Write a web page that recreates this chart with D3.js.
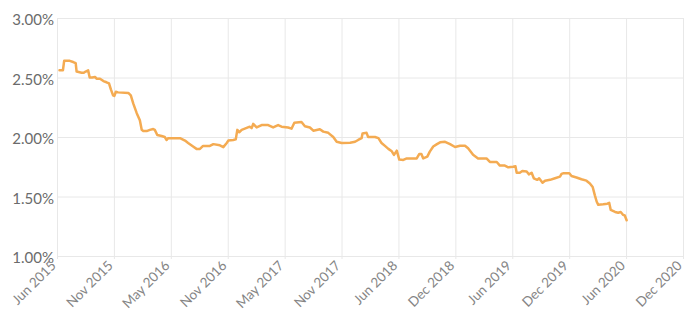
<!DOCTYPE html>
<html>
<head>
<meta charset="utf-8">
<script src="https://cdn.jsdelivr.net/npm/d3@7"></script>
<style>
  html, body { margin: 0; padding: 0; background: #fff; }
  svg { display: block; }
</style>
</head>
<body>
<svg id="chart" width="690" height="323"></svg>
<script>
// ---- data ----
const dates = [
  "2015-06-09","2015-06-20","2015-06-24","2015-07-12","2015-07-23","2015-07-31","2015-08-03","2015-08-19","2015-08-26","2015-09-01",
  "2015-09-09","2015-09-14","2015-09-22","2015-10-01","2015-10-06","2015-10-17","2015-10-28","2015-11-07","2015-11-15","2015-11-21",
  "2015-11-28","2015-12-02","2015-12-07","2015-12-14","2016-01-16","2016-01-24","2016-02-01","2016-02-12","2016-02-22","2016-02-28",
  "2016-03-04","2016-03-15","2016-03-25","2016-04-05","2016-04-10","2016-04-18","2016-05-02","2016-05-12","2016-05-18","2016-05-23",
  "2016-06-30","2016-07-16","2016-07-26","2016-08-11","2016-08-22","2016-09-02","2016-09-12","2016-10-04","2016-10-15","2016-11-05",
  "2016-11-16","2016-11-27","2016-12-02","2016-12-18","2016-12-26","2016-12-31","2017-01-06","2017-01-14","2017-01-24","2017-02-09",
  "2017-02-15","2017-02-20","2017-03-03","2017-03-19","2017-04-09","2017-04-25","2017-05-11","2017-05-22","2017-06-12","2017-06-23",
  "2017-07-02","2017-07-25","2017-08-05","2017-08-21","2017-09-01","2017-09-22","2017-10-03","2017-10-19","2017-11-04","2017-11-15",
  "2017-12-01","2017-12-28","2018-01-13","2018-01-23","2018-02-03","2018-02-06","2018-02-19","2018-02-24","2018-03-18","2018-03-29",
  "2018-04-08","2018-04-19","2018-04-30","2018-05-11","2018-05-18","2018-05-27","2018-06-04","2018-06-17","2018-06-28","2018-07-30",
  "2018-08-07","2018-08-14","2018-08-20","2018-09-02","2018-09-10","2018-09-21","2018-10-03","2018-10-13","2018-10-29","2018-11-14",
  "2018-11-30","2018-12-16","2019-01-01","2019-01-11","2019-01-27","2019-02-12","2019-03-11","2019-03-22","2019-04-13","2019-04-23",
  "2019-05-09","2019-05-20","2019-06-05","2019-06-12","2019-06-16","2019-06-26","2019-07-04","2019-07-18","2019-07-25","2019-08-03",
  "2019-08-10","2019-08-21","2019-08-27","2019-09-07","2019-09-15","2019-10-01","2019-10-17","2019-11-02","2019-11-07","2019-11-12",
  "2019-12-02","2019-12-09","2019-12-25","2020-01-10","2020-01-26","2020-02-06","2020-02-15","2020-02-22","2020-02-28","2020-03-04",
  "2020-03-20","2020-04-02","2020-04-08","2020-04-13","2020-04-27","2020-05-07","2020-05-15","2020-05-23","2020-05-28","2020-06-03"
];
const rates = [
  2.56,2.56,2.64,2.64,2.63,2.62,2.55,2.54,2.54,2.55,
  2.56,2.50,2.50,2.505,2.49,2.49,2.47,2.46,2.45,2.40,
  2.35,2.345,2.38,2.375,2.37,2.35,2.28,2.20,2.14,2.06,
  2.05,2.05,2.06,2.067,2.06,2.017,2.008,2.00,1.975,1.99,
  1.99,1.97,1.95,1.92,1.90,1.90,1.925,1.925,1.94,1.93,
  1.915,1.95,1.97,1.975,1.98,2.06,2.04,2.06,2.07,2.087,
  2.075,2.11,2.08,2.10,2.10,2.08,2.10,2.087,2.08,2.07,
  2.12,2.126,2.09,2.08,2.053,2.065,2.045,2.035,2.00,1.96,
  1.95,1.952,1.96,1.975,1.99,2.03,2.035,2.00,2.00,1.99,
  1.95,1.925,1.90,1.88,1.85,1.885,1.81,1.807,1.82,1.82,
  1.857,1.857,1.82,1.835,1.877,1.92,1.94,1.955,1.96,1.94,
  1.916,1.927,1.927,1.905,1.85,1.82,1.82,1.79,1.79,1.76,
  1.76,1.745,1.75,1.755,1.70,1.70,1.714,1.71,1.686,1.70,
  1.653,1.64,1.653,1.616,1.633,1.64,1.653,1.667,1.69,1.695,
  1.695,1.672,1.66,1.645,1.633,1.61,1.58,1.51,1.456,1.43,
  1.435,1.44,1.447,1.387,1.37,1.364,1.37,1.345,1.34,1.30
];
const xTickLabels = ["Jun 2015","Nov 2015","May 2016","Nov 2016","May 2017","Nov 2017","Jun 2018","Dec 2018","Jun 2019","Dec 2019","Jun 2020","Dec 2020"];
const xStart = "2015-06-01", xEnd = "2020-12-01";
const yTicks = [1.0, 1.5, 2.0, 2.5, 3.0];

// ---- chart ----
const W = 690, H = 323;
const margin = {top: 18, right: 7, bottom: 67, left: 57};
const parse = d3.utcParse("%Y-%m-%d");
const data = dates.map((d, i) => ({date: parse(d), v: rates[i]}));

const svg = d3.select("#chart");
const x = d3.scaleUtc().domain([parse(xStart), parse(xEnd)]).range([margin.left, W - margin.right]);
const y = d3.scaleLinear().domain([1.0, 3.0]).range([H - margin.bottom, margin.top]);

const t0 = parse(xStart).getTime(), t1 = parse(xEnd).getTime();
const n = xTickLabels.length;
const xTickVals = d3.range(n).map(i => new Date(t0 + i * (t1 - t0) / (n - 1)));

const gridColor = "#e8e8e8";

// horizontal grid + y labels
const yAxis = d3.axisLeft(y).tickValues(yTicks).tickSize(-(W - margin.left - margin.right))
  .tickFormat(d => d.toFixed(2) + "%").tickPadding(3);
const gy = svg.append("g").attr("transform", `translate(${margin.left},0)`).call(yAxis);
gy.select(".domain").attr("stroke", gridColor);
gy.selectAll(".tick line").attr("stroke", gridColor);
gy.selectAll(".tick text")
  .attr("fill", "#6b6b6b").attr("font-family", "Lato, 'Open Sans', sans-serif")
  .attr("font-size", 15).attr("dy", "0.45em");

// vertical grid + x labels
const xAxis = d3.axisBottom(x).tickValues(xTickVals).tickSize(-(H - margin.top - margin.bottom))
  .tickFormat((d, i) => xTickLabels[i]);
const gx = svg.append("g").attr("transform", `translate(0,${H - margin.bottom})`).call(xAxis);
gx.select(".domain").attr("stroke", gridColor);
gx.selectAll(".tick line").attr("stroke", gridColor).attr("y2", 3).attr("y1", -(H - margin.top - margin.bottom));
gx.selectAll(".tick text")
  .attr("fill", "#858585").attr("font-family", "Lato, 'Open Sans', sans-serif")
  .attr("font-size", 13.5)
  .attr("text-anchor", "end")
  .attr("x", 0).attr("y", 0).attr("dy", "0.35em")
  .attr("transform", "translate(-4,7) rotate(-45)");

// line
const line = d3.line().x(d => x(d.date)).y(d => y(d.v)).curve(d3.curveLinear);
svg.append("path").datum(data)
  .attr("fill", "none").attr("stroke", "#f4ab52").attr("stroke-width", 2.5)
  .attr("stroke-linejoin", "round").attr("stroke-linecap", "round")
  .attr("d", line);
</script>
</body>
</html>
